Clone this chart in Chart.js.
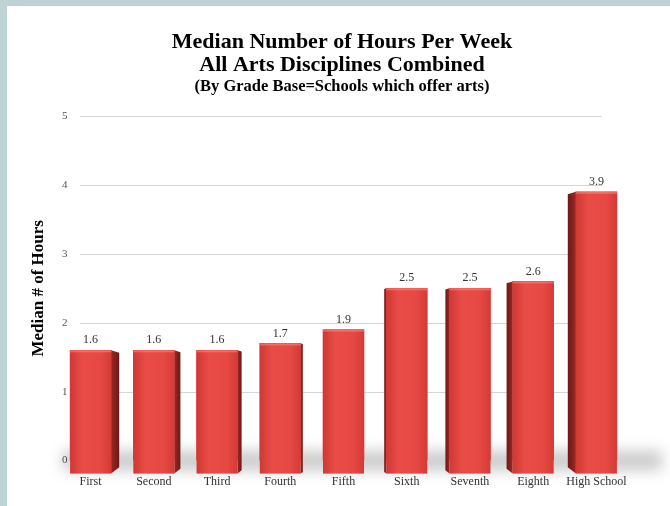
<!DOCTYPE html>
<html>
<head>
<meta charset="utf-8">
<script src="https://cdn.jsdelivr.net/npm/chart.js@4.4.0/dist/chart.umd.min.js"></script>
<style>
  html, body { margin: 0; padding: 0; background: #bfd3d6; }
  #panel { position: absolute; left: 7px; top: 6px; width: 663px; height: 500px; background: #fff; }
  canvas { display: block; }
</style>
</head>
<body>
<div id="panel"><canvas id="hours-chart" width="663" height="500" style="width:663px;height:500px"></canvas></div>
<script>
//Chart data
var grades = ['First', 'Second', 'Third', 'Fourth', 'Fifth', 'Sixth', 'Seventh', 'Eighth', 'High School'];
var hours = [1.6, 1.6, 1.6, 1.7, 1.9, 2.5, 2.5, 2.6, 3.9];
var yTicks = [0, 1, 2, 3, 4, 5];
var titleLines = ['Median Number of Hours Per Week', 'All Arts Disciplines Combined'];
var subtitleText = '(By Grade Base=Schools which offer arts)';
var yAxisTitle = 'Median # of Hours';

const serif = "'Liberation Serif', 'Times New Roman', serif";

//Grid lines and floor shadow behind the bars
const backdrop = {
  id: 'backdrop',
  beforeDatasetsDraw(chart) {
    const ctx = chart.ctx;
    const a = chart.chartArea;
    const y = chart.scales.y;
    const base = y.getPixelForValue(0);
    ctx.save();
    ctx.filter = 'blur(7px)';
    ctx.fillStyle = 'rgba(0,0,0,0.20)';
    ctx.fillRect(a.left + 4, base - 10, a.right - a.left + 30, 20);
    ctx.filter = 'none';
    ctx.strokeStyle = '#d5d5d5';
    ctx.lineWidth = 1;
    yTicks.forEach(function(v) {
      if (v === 0) return;
      const py = Math.round(y.getPixelForValue(v)) + 0.5;
      ctx.beginPath();
      ctx.moveTo(a.left + 21, py);
      ctx.lineTo(a.right - 26, py);
      ctx.stroke();
    });
    ctx.restore();
  }
};

//3D look for the bars + value labels
const bars3d = {
  id: 'bars3d',
  afterDatasetsDraw(chart) {
    const ctx = chart.ctx;
    const a = chart.chartArea;
    const mid = (a.left + a.right) / 2;
    const meta = chart.getDatasetMeta(0);
    ctx.save();
    meta.data.forEach(function(bar, i) {
      const w = bar.width;
      const x0 = bar.x - w / 2;
      const x1 = bar.x + w / 2;
      const top = bar.y;
      const bottom = bar.base + 13;
      const s = (mid - bar.x) * 0.032;
      //side face
      const sx = s > 0 ? x1 : x0;
      const side = ctx.createLinearGradient(sx, 0, sx + s, 0);
      side.addColorStop(0, '#9a2825');
      side.addColorStop(1, '#6e1816');
      ctx.fillStyle = side;
      ctx.beginPath();
      ctx.moveTo(sx, top);
      ctx.lineTo(sx + s, top + Math.abs(s) * 0.3);
      ctx.lineTo(sx + s, bottom - Math.abs(s) * 0.8);
      ctx.lineTo(sx, bottom);
      ctx.closePath();
      ctx.fill();
      //front face
      const front = ctx.createLinearGradient(x0, 0, x1, 0);
      front.addColorStop(0, '#d03833');
      front.addColorStop(0.3, '#e94c46');
      front.addColorStop(0.75, '#e64843');
      front.addColorStop(1, '#d43b36');
      ctx.fillStyle = front;
      ctx.fillRect(x0, top, w, bottom - top);
      ctx.fillStyle = 'rgba(255,140,130,0.55)';
      ctx.fillRect(x0, top, w, 2);
      //value label
      ctx.fillStyle = '#333';
      ctx.font = '12px ' + serif;
      ctx.textAlign = 'center';
      ctx.textBaseline = 'bottom';
      ctx.fillText(hours[i].toFixed(1), bar.x, top - 4);
    });
    ctx.restore();
  }
};

new Chart(document.getElementById('hours-chart'), {
  type: 'bar',
  data: {
    labels: grades,
    datasets: [{
      label: 'Median # of Hours',
      data: hours,
      backgroundColor: '#e2433e',
      borderWidth: 0,
      barThickness: 41
    }]
  },
  options: {
    responsive: false,
    animation: false,
    layout: { padding: { top: 25, left: 21, right: 14, bottom: 3 } },
    plugins: {
      legend: { display: false },
      tooltip: { enabled: false },
      title: {
        display: true,
        text: titleLines,
        color: '#000',
        font: { family: serif, size: 22, weight: 'bold', lineHeight: 1.05 },
        padding: { top: 0, bottom: 0 }
      },
      subtitle: {
        display: true,
        text: subtitleText,
        color: '#000',
        font: { family: serif, size: 16.5, weight: 'bold', lineHeight: 1.2 },
        padding: { top: 0, bottom: 19 }
      }
    },
    scales: {
      x: {
        grid: { display: false, drawTicks: false },
        border: { display: false },
        ticks: { color: '#333', font: { family: serif, size: 12 }, padding: 14, maxRotation: 0, autoSkip: false }
      },
      y: {
        min: 0,
        max: 5,
        afterBuildTicks: function(scale) {
          scale.ticks = yTicks.map(function(v) { return { value: v }; });
        },
        afterFit: function(scale) { scale.width = 31; },
        grid: { display: false, drawTicks: false },
        border: { display: false },
        ticks: { mirror: true, padding: 3, color: '#555', font: { family: serif, size: 11 } },
        title: {
          display: true,
          text: yAxisTitle,
          color: '#000',
          font: { family: serif, size: 17, weight: 'bold' },
          padding: 0
        }
      },
      //empty right axis, only keeps room on the right side
      y2: {
        position: 'right',
        min: 0,
        max: 5,
        afterFit: function(scale) { scale.width = 28; },
        grid: { display: false, drawTicks: false },
        border: { display: false },
        ticks: { display: false }
      }
    }
  },
  plugins: [backdrop, bars3d]
});
</script>
</body>
</html>
